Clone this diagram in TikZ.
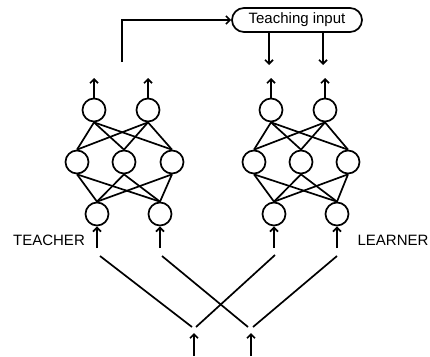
\documentclass[tikz,border=0pt]{standalone}
\usepackage{fontspec}
\setmainfont{Liberation Sans}
\usetikzlibrary{arrows.meta,shapes.misc}
\begin{document}
\begin{tikzpicture}[x=1pt,y=-1pt,
  neuron/.style={draw,circle,line width=1.7pt,minimum size=23pt,inner sep=0pt},
  wire/.style={line width=1.7pt},
  arr/.style={line width=1.7pt,-{Straight Barb[length=4pt,width=8pt]}},
  lab/.style={font=\fontsize{15}{18}\selectfont,inner sep=0pt}]
\useasboundingbox (0,0) rectangle (430,356);
% Teacher network
\node[neuron] (to1) at (94,110) {};
\node[neuron] (to2) at (148,110) {};
\node[neuron] (th1) at (77,162) {};
\node[neuron] (th2) at (124,162) {};
\node[neuron] (th3) at (172,162) {};
\node[neuron] (ti1) at (97,214) {};
\node[neuron] (ti2) at (160,214) {};
% Learner network
\node[neuron] (lo1) at (271,110) {};
\node[neuron] (lo2) at (325,110) {};
\node[neuron] (lh1) at (254,162) {};
\node[neuron] (lh2) at (301,162) {};
\node[neuron] (lh3) at (348,162) {};
\node[neuron] (li1) at (274,214) {};
\node[neuron] (li2) at (337,214) {};
% connections
\foreach \n in {t,l}{
  \foreach \o in {1,2}{\foreach \h in {1,2,3}{
    \draw[wire] (\n o\o.south) -- (\n h\h.north);}}
  \foreach \h in {1,2,3}{\foreach \i in {1,2}{
    \draw[wire] (\n h\h.south) -- (\n i\i.north);}}
}
% teaching input
\node[draw,rounded rectangle,line width=1.7pt,minimum width=130pt,minimum height=24pt,inner sep=0pt,font=\fontsize{15}{18}\selectfont] (teach) at (297,20) {Teaching input};
% output arrows
\coordinate (to1e) at (94,78);
\coordinate (to2e) at (148,78);
\coordinate (lo1e) at (271,78);
\coordinate (lo2e) at (325,78);
\draw[arr] (to1.north) -- (to1e);
\draw[arr] (to2.north) -- (to2e);
\draw[arr] (lo1.north) -- (lo1e);
\draw[arr] (lo2.north) -- (lo2e);
% teacher output to teaching input
\coordinate (tstart) at (122,62);
\draw[arr] (tstart) |- (teach.west);
% teaching input arrows down
\coordinate (td1) at (269,65);
\coordinate (td2) at (323,65);
\draw[arr] (teach.south -| td1) -- (td1);
\draw[arr] (teach.south -| td2) -- (td2);
% input arrows
\coordinate (tia1) at (97,248);
\coordinate (tia2) at (160,248);
\coordinate (lia1) at (274,248);
\coordinate (lia2) at (337,248);
\draw[arr] (tia1) -- (ti1.south);
\draw[arr] (tia2) -- (ti2.south);
\draw[arr] (lia1) -- (li1.south);
\draw[arr] (lia2) -- (li2.south);
% crossing lines
\coordinate (ta1) at (100,256);
\coordinate (ta2) at (162,256);
\coordinate (la1) at (275,255);
\coordinate (la2) at (337,256);
\coordinate (b1l) at (192,327);
\coordinate (b1r) at (196,327);
\coordinate (b2l) at (248,327);
\coordinate (b2r) at (253,327);
\draw[wire] (ta1) -- (b1l);
\draw[wire] (ta2) -- (b2l);
\draw[wire] (b1r) -- (la1);
\draw[wire] (b2r) -- (la2);
% bottom arrows
\coordinate (bi1) at (194,356);
\coordinate (bi1t) at (194,333);
\coordinate (bi2) at (251,356);
\coordinate (bi2t) at (251,333);
\draw[arr] (bi1) -- (bi1t);
\draw[arr] (bi2) -- (bi2t);
% labels
\node[lab] (teacher) at (49,240) {TEACHER};
\node[lab] (learner) at (393,240) {LEARNER};
\end{tikzpicture}
\end{document}
